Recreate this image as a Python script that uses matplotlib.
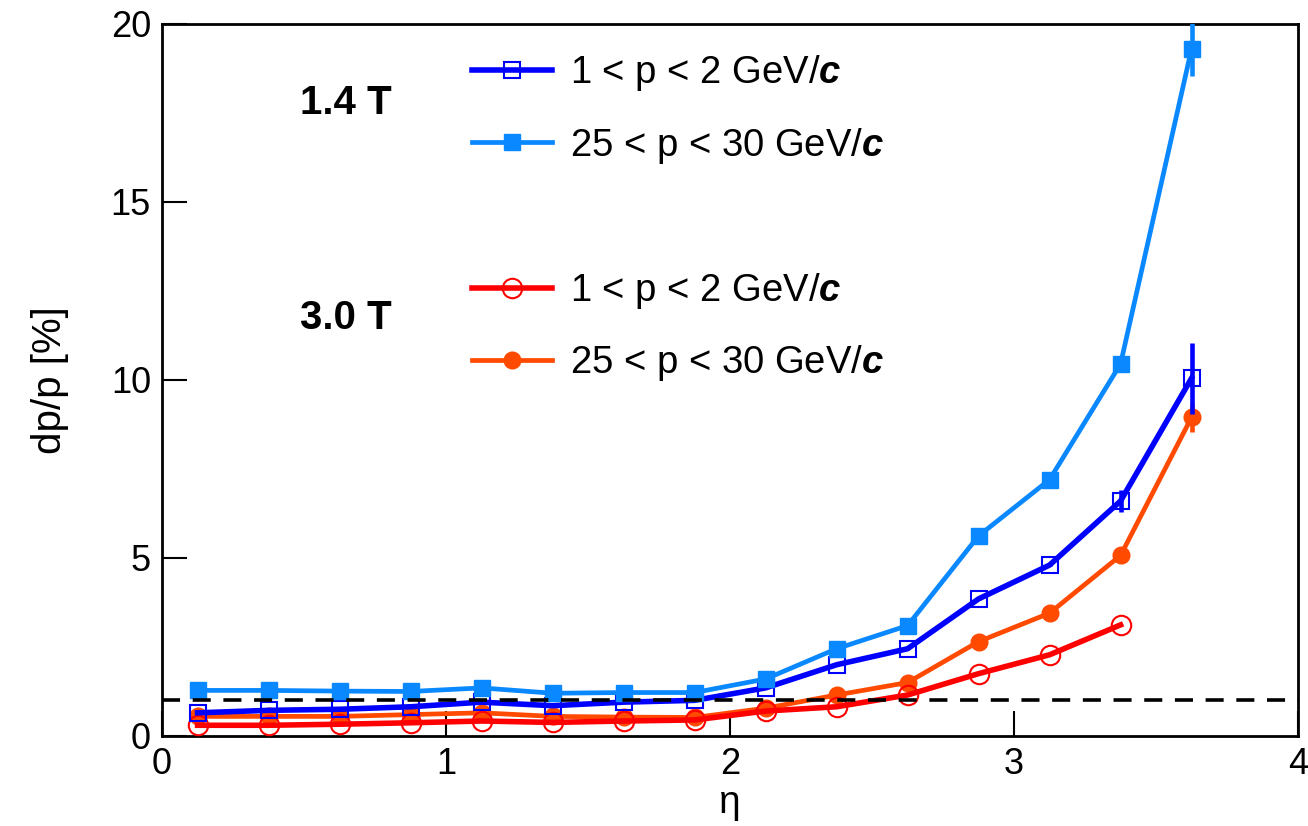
import matplotlib.pyplot as plt

plt.rcParams['font.family'] = ['Liberation Sans', 'DejaVu Sans']
plt.rcParams['mathtext.fontset'] = 'custom'
plt.rcParams['mathtext.rm'] = 'Liberation Sans'
plt.rcParams['mathtext.it'] = 'Liberation Sans:italic:bold'

# centros de los bins en eta
eta = [0.125, 0.375, 0.625, 0.875, 1.125, 1.375, 1.625, 1.875,
       2.125, 2.375, 2.625, 2.875, 3.125, 3.375, 3.625]

# 1.4 T
b14_low = [0.65, 0.72, 0.75, 0.82, 0.95, 0.85, 0.95, 1.0,
           1.35, 2.0, 2.45, 3.85, 4.8, 6.6, 10.05]
b14_low_err = [0.02] * 13 + [0.3, 1.0]
b14_high = [1.28, 1.28, 1.26, 1.25, 1.35, 1.2, 1.22, 1.22,
            1.6, 2.45, 3.1, 5.62, 7.2, 10.45, 19.3]
b14_high_err = [0.02] * 13 + [0.1, 0.75]

# 3.0 T
b30_low = [0.3, 0.3, 0.33, 0.37, 0.42, 0.38, 0.42, 0.45,
           0.7, 0.82, 1.15, 1.75, 2.28, 3.12]
b30_low_err = [0.02] * 14
b30_high = [0.55, 0.55, 0.55, 0.6, 0.65, 0.55, 0.53, 0.52,
            0.78, 1.15, 1.5, 2.65, 3.45, 5.07, 8.95]
b30_high_err = [0.02] * 13 + [0.1, 0.4]

lbl_low = r'1 < p < 2 GeV/$c$'
lbl_high = r'25 < p < 30 GeV/$c$'

fig = plt.figure(figsize=(13.08, 8.26), dpi=100)
ax = fig.add_axes([0.1239, 0.109, 0.8685, 0.862])

e_oh = ax.errorbar(eta, b30_high, yerr=b30_high_err, color='#ff4a00', lw=3.4,
                   marker='o', ms=12, mfc='#ff4a00', mec='#ff4a00', capsize=0,
                   elinewidth=3.3, label=lbl_high, zorder=3)
e_rl = ax.errorbar(eta[:len(b30_low)], b30_low, yerr=b30_low_err, color='#ff0000', lw=4,
                   marker='o', ms=14, mfc='none', mec='#ff0000', mew=1.5, capsize=0,
                   elinewidth=3, label=lbl_low, zorder=4)
e_bl = ax.errorbar(eta, b14_low, yerr=b14_low_err, color='#0000ff', lw=4,
                   marker='s', ms=12, mfc='none', mec='#0000ff', mew=1.5, capsize=0,
                   elinewidth=3.3, label=lbl_low, zorder=5)
e_bh = ax.errorbar(eta, b14_high, yerr=b14_high_err, color='#0a88ff', lw=3.4,
                   marker='s', ms=12, mfc='#0a88ff', mec='#0a88ff', capsize=0,
                   elinewidth=3.3, label=lbl_high, zorder=6)

ax.axhline(1, color='black', lw=2.6, ls=(0, (5, 3.5)), zorder=7)

ax.set_xlim(0, 4)
ax.set_ylim(0, 20)
ax.set_xticks([0, 1, 2, 3, 4])
ax.set_yticks([0, 5, 10, 15, 20])
ax.tick_params(direction='in', length=18, width=1.5, labelsize=26, pad=8,
               top=False, right=False)
for s in ax.spines.values():
    s.set_linewidth(2)

ax.set_xlabel('η', fontsize=28, labelpad=2)
ax.set_ylabel('dp/p [%]', fontsize=29, labelpad=30)

leg_kw = dict(loc='upper left', frameon=False, fontsize=27.5, handlelength=2.1,
              handletextpad=0.45, labelspacing=0.85, borderpad=0, borderaxespad=0)
leg1 = ax.legend(handles=[e_bl[0], e_bh[0]], labels=[lbl_low, lbl_high],
                 bbox_to_anchor=(0.273, 0.959), **leg_kw)
ax.add_artist(leg1)
ax.legend(handles=[e_rl[0], e_oh[0]], labels=[lbl_low, lbl_high],
          bbox_to_anchor=(0.273, 0.653), **leg_kw)

ax.text(0.1215, 0.889, '1.4 T', transform=ax.transAxes, fontsize=29,
        fontweight='bold', va='center', ha='left')
ax.text(0.1215, 0.587, '3.0 T', transform=ax.transAxes, fontsize=29,
        fontweight='bold', va='center', ha='left')

fig.savefig('out.png', dpi=100)
